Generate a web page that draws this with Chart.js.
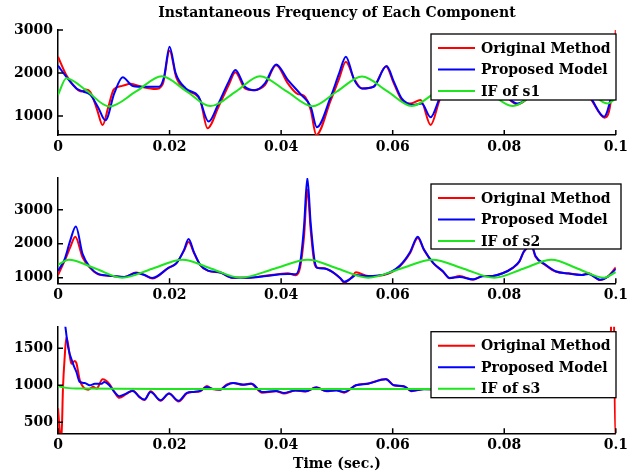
<!DOCTYPE html>
<html>
<head>
<meta charset="utf-8">
<script src="https://cdn.jsdelivr.net/npm/chart.js@4.4.1/dist/chart.umd.min.js"></script>
<style>
html, body { margin: 0; padding: 0; background: #fff; }
#wrap { position: relative; width: 632px; height: 474px; }
canvas { position: absolute; left: 0; }
</style>
</head>
<body>
<div id="wrap">
  <canvas id="c1" width="632" height="160" style="top:0px"></canvas>
  <canvas id="c2" width="632" height="150" style="top:160px"></canvas>
  <canvas id="c3" width="632" height="164" style="top:310px"></canvas>
</div>
<script>
// ticks / labels
const xTicks = [0, 0.02, 0.04, 0.06, 0.08, 0.1];
const xTickLabels = ['0', '0.02', '0.04', '0.06', '0.08', '0.1'];
const yTicks1 = [1000, 2000, 3000];
const yTicks2 = [1000, 2000, 3000];
const yTicks3 = [500, 1000, 1500];
const seriesNames = ['Original Method', 'Proposed Model'];
const ifNames = ['IF of s1', 'IF of s2', 'IF of s3'];

// panel 1 (s1)
const p1RedX = [0, 0.0015, 0.0033, 0.0042, 0.005, 0.0058, 0.007, 0.008, 0.009, 0.01, 0.0115, 0.013, 0.015, 0.0175, 0.0188, 0.02, 0.0212, 0.0229, 0.0245, 0.0255, 0.0268, 0.0288, 0.0306, 0.0318, 0.0335, 0.035, 0.0371, 0.0391, 0.0412, 0.043, 0.0441, 0.0453, 0.0463, 0.0489, 0.0504, 0.0516, 0.0531, 0.0545, 0.0566, 0.0588, 0.0602, 0.0616, 0.0631, 0.065, 0.0668, 0.0684, 0.07, 0.072, 0.074, 0.076, 0.078, 0.08, 0.0824, 0.0845, 0.087, 0.09, 0.093, 0.0955, 0.098, 0.0992, 0.1];
const p1RedY = [2380, 1950, 1640, 1570, 1615, 1560, 1150, 790, 1200, 1620, 1700, 1750, 1680, 1630, 1750, 2520, 1900, 1600, 1510, 1370, 715, 1220, 1720, 2020, 1640, 1600, 1720, 2180, 1760, 1510, 1470, 1140, 560, 1370, 1870, 2260, 1860, 1640, 1690, 2150, 1760, 1380, 1290, 1370, 790, 1370, 1800, 2050, 1700, 1650, 1750, 1500, 1270, 1450, 1900, 1700, 1800, 1400, 960, 1450, 3000];
const p1BlueX = [0, 0.0015, 0.0033, 0.0045, 0.0058, 0.0072, 0.0085, 0.0101, 0.0116, 0.0134, 0.0157, 0.0181, 0.019, 0.02, 0.0211, 0.0229, 0.0252, 0.027, 0.0288, 0.0306, 0.0318, 0.0335, 0.0353, 0.0371, 0.0391, 0.0412, 0.0436, 0.0453, 0.0464, 0.0489, 0.0504, 0.0516, 0.0531, 0.0545, 0.0566, 0.0589, 0.0602, 0.0616, 0.0637, 0.0652, 0.0668, 0.0684, 0.07, 0.072, 0.074, 0.076, 0.078, 0.08, 0.0824, 0.0845, 0.087, 0.09, 0.093, 0.0955, 0.0979, 0.1];
const p1BlueY = [2170, 1910, 1640, 1570, 1490, 1200, 900, 1530, 1900, 1700, 1680, 1680, 1900, 2610, 1990, 1640, 1450, 870, 1300, 1800, 2070, 1680, 1600, 1760, 2200, 1840, 1490, 1220, 740, 1450, 1990, 2380, 1840, 1640, 1680, 2160, 1800, 1410, 1260, 1290, 970, 1410, 1800, 2050, 1720, 1660, 1760, 1500, 1290, 1460, 1900, 1700, 1800, 1420, 985, 1910];
const p1GreenX = [0, 0.0015, 0.005, 0.0092, 0.014, 0.0186, 0.023, 0.0273, 0.032, 0.0362, 0.041, 0.0456, 0.05, 0.0545, 0.059, 0.0634, 0.068, 0.0725, 0.077, 0.0815, 0.086, 0.0905, 0.095, 0.0985, 0.1];
const p1GreenY = [1490, 1880, 1600, 1220, 1570, 1925, 1580, 1230, 1580, 1925, 1570, 1225, 1570, 1920, 1580, 1235, 1580, 1920, 1580, 1230, 1580, 1920, 1600, 1290, 1410];

// panel 2 (s2)
const p2RedX = [0, 0.0012, 0.0022, 0.0031, 0.0044, 0.0058, 0.0072, 0.0098, 0.0119, 0.014, 0.0155, 0.0169, 0.0198, 0.0212, 0.0226, 0.0234, 0.0244, 0.0255, 0.0269, 0.0291, 0.0312, 0.0341, 0.0369, 0.0398, 0.0412, 0.0426, 0.0434, 0.0441, 0.0447, 0.0453, 0.046, 0.0465, 0.0477, 0.0491, 0.0506, 0.0513, 0.0527, 0.0534, 0.0556, 0.0584, 0.0613, 0.0631, 0.0645, 0.0656, 0.0673, 0.069, 0.0702, 0.072, 0.0744, 0.0761, 0.0779, 0.0797, 0.0815, 0.0827, 0.0835, 0.0849, 0.0856, 0.0874, 0.0892, 0.0915, 0.0939, 0.0951, 0.0972, 0.0986, 0.1];
const p2RedY = [1080, 1500, 1900, 2210, 1600, 1280, 1100, 1050, 1020, 1150, 1080, 975, 1290, 1420, 1800, 2050, 1720, 1370, 1200, 1150, 1000, 1000, 1050, 1110, 1130, 1070, 1300, 2200, 3600, 2400, 1400, 1290, 1280, 1180, 980, 850, 1020, 1160, 1050, 1080, 1340, 1720, 2170, 1820, 1420, 1180, 980, 1050, 940, 1050, 1050, 1130, 1280, 1470, 1760, 1930, 1620, 1370, 1180, 1130, 1080, 1130, 930, 1040, 1300];
const p2BlueX = [0, 0.0012, 0.0022, 0.0032, 0.0044, 0.0058, 0.0072, 0.0098, 0.0119, 0.014, 0.0155, 0.0169, 0.0198, 0.0212, 0.0226, 0.0234, 0.0244, 0.0255, 0.0269, 0.0291, 0.0312, 0.0341, 0.0369, 0.0398, 0.0412, 0.0426, 0.0434, 0.0441, 0.0447, 0.0453, 0.046, 0.0465, 0.0477, 0.0491, 0.0506, 0.0513, 0.0527, 0.0534, 0.0556, 0.0584, 0.0613, 0.0631, 0.0645, 0.0656, 0.0673, 0.069, 0.0702, 0.072, 0.0744, 0.0761, 0.0779, 0.0797, 0.0815, 0.0827, 0.0835, 0.0849, 0.0856, 0.0874, 0.0892, 0.0915, 0.0939, 0.0951, 0.0972, 0.0986, 0.1];
const p2BlueY = [1200, 1550, 2100, 2510, 1700, 1300, 1110, 1050, 1020, 1140, 1080, 990, 1290, 1420, 1820, 2140, 1740, 1380, 1210, 1150, 1000, 1000, 1040, 1100, 1110, 1100, 1420, 2500, 3940, 2600, 1500, 1290, 1270, 1180, 990, 880, 1000, 1080, 1050, 1090, 1360, 1750, 2210, 1830, 1430, 1190, 990, 1020, 950, 1040, 1050, 1130, 1290, 1480, 1770, 1950, 1640, 1380, 1190, 1120, 1080, 1110, 940, 1030, 1260];
const p2GreenX = [0, 0.0019, 0.0067, 0.0115, 0.0169, 0.0223, 0.0275, 0.0327, 0.0388, 0.0448, 0.0502, 0.0556, 0.0614, 0.0671, 0.0727, 0.0782, 0.0834, 0.0885, 0.0932, 0.0979, 0.1];
const p2GreenY = [1375, 1527, 1270, 1000, 1265, 1530, 1265, 1000, 1265, 1530, 1265, 1000, 1265, 1530, 1265, 1000, 1265, 1530, 1265, 1000, 1163];

// panel 3 (s3)
const p3RedX = [0, 0.0003, 0.0006, 0.0009, 0.0012, 0.0015, 0.0018, 0.0024, 0.003, 0.0033, 0.0039, 0.0045, 0.0054, 0.0063, 0.0069, 0.008, 0.0092, 0.0101, 0.011, 0.0122, 0.0134, 0.0146, 0.0155, 0.0166, 0.0184, 0.0199, 0.0216, 0.0231, 0.0243, 0.0255, 0.0267, 0.0276, 0.0291, 0.0302, 0.0314, 0.0332, 0.0345, 0.0366, 0.0391, 0.0405, 0.0426, 0.0444, 0.0463, 0.0481, 0.0499, 0.0513, 0.0534, 0.0556, 0.0588, 0.0602, 0.062, 0.0634, 0.0656, 0.068, 0.072, 0.076, 0.08, 0.085, 0.09, 0.095, 0.0988, 0.0994, 0.0996, 0.0999, 0.1];
const p3RedY = [690, 400, 250, 980, 1380, 1650, 1560, 1290, 1330, 1300, 1070, 980, 940, 980, 955, 1080, 1020, 910, 830, 880, 930, 840, 800, 920, 790, 890, 780, 890, 910, 920, 990, 950, 940, 1010, 1030, 1005, 1025, 900, 920, 890, 930, 915, 975, 920, 935, 900, 1000, 1025, 1085, 1000, 985, 920, 950, 940, 970, 930, 960, 940, 970, 940, 1000, 2300, 2300, 300, 300];
const p3BlueX = [0, 0.0012, 0.0018, 0.0027, 0.0033, 0.0039, 0.0048, 0.0057, 0.0066, 0.0078, 0.0083, 0.0092, 0.0101, 0.011, 0.0122, 0.0134, 0.0146, 0.0155, 0.0166, 0.0184, 0.0199, 0.0216, 0.0231, 0.0243, 0.0255, 0.0267, 0.0276, 0.0291, 0.0302, 0.0314, 0.0332, 0.0347, 0.0366, 0.0391, 0.0405, 0.0426, 0.0444, 0.0463, 0.0481, 0.0499, 0.0513, 0.0534, 0.0556, 0.0588, 0.0602, 0.062, 0.0634, 0.0656, 0.068, 0.072, 0.076, 0.08, 0.085, 0.09, 0.095, 0.0985, 0.0992, 0.0996, 0.1];
const p3BlueY = [2100, 1850, 1520, 1290, 1180, 1045, 1030, 1000, 1020, 1020, 1045, 1000, 910, 852, 888, 924, 843, 807, 910, 798, 888, 790, 897, 910, 924, 978, 955, 942, 1000, 1031, 1009, 1022, 910, 924, 897, 931, 920, 969, 924, 931, 910, 1000, 1022, 1081, 1000, 987, 924, 945, 945, 965, 935, 955, 945, 965, 945, 1000, 1500, 1650, 1340];
const p3GreenX = [0, 0.0015, 0.004, 0.02, 0.05, 0.08, 0.098, 0.1];
const p3GreenY = [990, 965, 955, 950, 950, 950, 955, 985];

const FONT = 'DejaVu Serif';

function pts(xs, ys) {
  return xs.map((x, i) => ({ x: x, y: ys[i] }));
}

// MATLAB style tick marks pointing into the axes
const innerTicks = {
  id: 'innerTicks',
  afterDatasetsDraw(chart) {
    const { ctx, chartArea: a, scales } = chart;
    ctx.save();
    ctx.strokeStyle = '#000';
    ctx.lineWidth = 1.5;
    ctx.beginPath();
    scales.x.ticks.forEach(t => {
      const px = scales.x.getPixelForValue(t.value);
      ctx.moveTo(px, a.bottom);
      ctx.lineTo(px, a.bottom - 5);
    });
    scales.y.ticks.forEach(t => {
      const py = scales.y.getPixelForValue(t.value);
      ctx.moveTo(a.left, py);
      ctx.lineTo(a.left + 5, py);
    });
    ctx.stroke();
    ctx.restore();
  }
};

// legend box drawn inside the axes, top right
const boxLegend = {
  id: 'boxLegend',
  afterDraw(chart, args, opts) {
    const ctx = chart.ctx;
    const { left, top, width, height } = opts;
    ctx.save();
    ctx.fillStyle = '#fff';
    ctx.fillRect(left, top, width, height);
    ctx.strokeStyle = '#000';
    ctx.lineWidth = 1.3;
    ctx.strokeRect(left, top, width, height);
    ctx.font = 'bold 14px "' + FONT + '"';
    ctx.textBaseline = 'middle';
    ctx.textAlign = 'left';
    chart.data.datasets.forEach((ds, i) => {
      const y = top + 14 + i * 21.5;
      ctx.strokeStyle = ds.borderColor;
      ctx.lineWidth = 2;
      ctx.beginPath();
      ctx.moveTo(left + 7, y);
      ctx.lineTo(left + 44, y);
      ctx.stroke();
      ctx.fillStyle = '#000';
      ctx.fillText(ds.label, left + 50, y + 1);
    });
    ctx.restore();
  }
};

function makePanel(id, d, cfg) {
  const line = (label, data, color, order) => ({
    label: label,
    data: data,
    borderColor: color,
    borderWidth: 2,
    pointRadius: 0,
    fill: false,
    cubicInterpolationMode: 'monotone',
    order: order
  });
  return new Chart(document.getElementById(id), {
    type: 'line',
    data: {
      datasets: [
        line(seriesNames[0], d.red, '#ff0000', 3),
        line(seriesNames[1], d.blue, '#0000ff', 2),
        line(d.ifName, d.green, '#1ee61e', 1)
      ]
    },
    options: {
      responsive: false,
      animation: false,
      devicePixelRatio: 1,
      layout: { padding: { left: 0, right: 11, top: cfg.padTop, bottom: 0 } },
      plugins: {
        legend: { display: false },
        tooltip: { enabled: false },
        title: cfg.title ? {
          display: true,
          text: cfg.title,
          fullSize: false,
          color: '#000',
          font: { family: FONT, size: 14, weight: 'bold' },
          padding: { top: 4.5, bottom: 8.7 }
        } : { display: false },
        boxLegend: cfg.legend
      },
      scales: {
        x: {
          type: 'linear',
          min: 0,
          max: 0.1,
          afterBuildTicks: s => { s.ticks = xTicks.map(v => ({ value: v })); },
          afterFit: s => { s.height = cfg.xHeight; },
          grid: { display: false, drawTicks: false, tickLength: 0 },
          border: { display: true, color: '#000', width: 1.5 },
          ticks: {
            autoSkip: false,
            maxRotation: 0,
            padding: 4,
            color: '#000',
            font: { family: FONT, size: 14, weight: 'bold' },
            callback: (v, i) => xTickLabels[i]
          },
          title: cfg.xTitle ? {
            display: true,
            text: cfg.xTitle,
            color: '#000',
            font: { family: FONT, size: 14, weight: 'bold' },
            padding: { top: 0, bottom: 1.6 }
          } : { display: false }
        },
        y: {
          type: 'linear',
          min: cfg.yMin,
          max: cfg.yMax,
          afterBuildTicks: s => { s.ticks = cfg.yTicks.map(v => ({ value: v })); },
          afterFit: s => { s.width = 58; },
          grid: { display: false, drawTicks: false, tickLength: 0 },
          border: { display: true, color: '#000', width: 1.5 },
          ticks: {
            padding: 5,
            color: '#000',
            font: { family: FONT, size: 14, weight: 'bold' },
            callback: v => String(v)
          }
        }
      }
    },
    plugins: [innerTicks, boxLegend]
  });
}

makePanel('c1',
  { red: pts(p1RedX, p1RedY), blue: pts(p1BlueX, p1BlueY), green: pts(p1GreenX, p1GreenY), ifName: ifNames[0] },
  { title: 'Instantaneous Frequency of Each Component', padTop: 0, xHeight: 25, yMin: 558, yMax: 3000, yTicks: yTicks1,
    legend: { left: 431, top: 34, width: 185, height: 66 } });

makePanel('c2',
  { red: pts(p2RedX, p2RedY), blue: pts(p2BlueX, p2BlueY), green: pts(p2GreenX, p2GreenY), ifName: ifNames[1] },
  { padTop: 18, xHeight: 26.7, yMin: 834, yMax: 3940, yTicks: yTicks2,
    legend: { left: 431, top: 24, width: 190, height: 65 } });

makePanel('c3',
  { red: pts(p3RedX, p3RedY), blue: pts(p3BlueX, p3BlueY), green: pts(p3GreenX, p3GreenY), ifName: ifNames[2] },
  { padTop: 16.7, xHeight: 40.7, xTitle: 'Time (sec.)', yMin: 351, yMax: 1792, yTicks: yTicks3,
    legend: { left: 431, top: 21.7, width: 185, height: 66 } });
</script>
</body>
</html>
